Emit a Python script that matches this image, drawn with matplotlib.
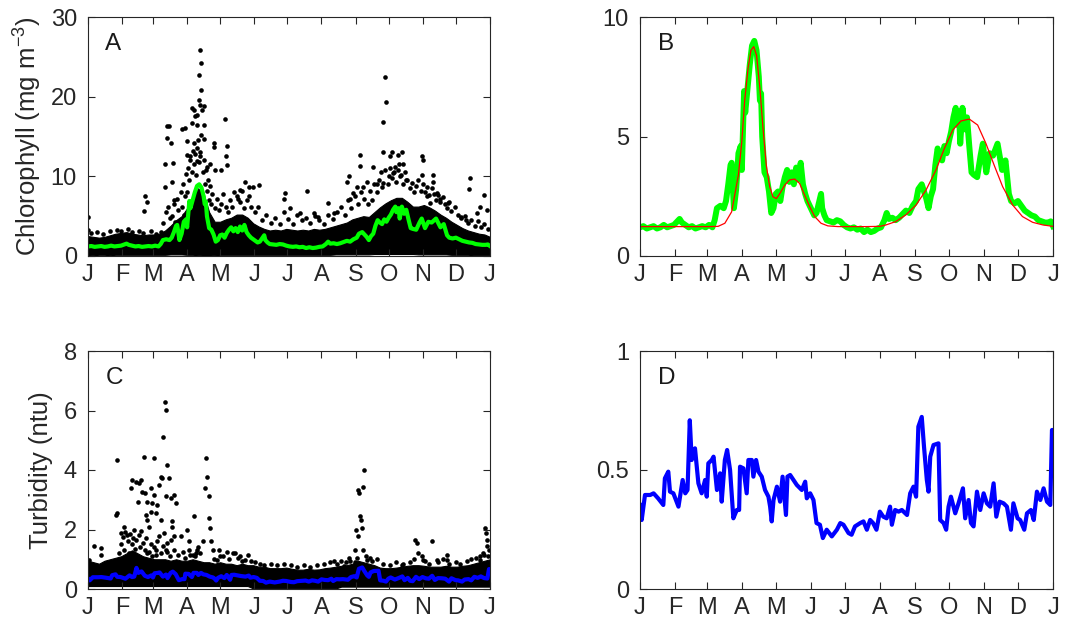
import matplotlib
matplotlib.use("Agg")
import matplotlib.pyplot as plt

plt.rcParams['font.family'] = ['Liberation Sans', 'DejaVu Sans']
plt.rcParams['mathtext.default'] = 'regular'

# month ticks (day of year)
MONTH_DAYS = [0, 31, 59, 90, 120, 151, 181, 212, 243, 273, 304, 334, 365]
MONTH_LABELS = ['J', 'F', 'M', 'A', 'M', 'J', 'J', 'A', 'S', 'O', 'N', 'D', 'J']

# smoothed chlorophyll (panels A and B)
chl_days = [0, 3, 6, 9, 12, 15, 18, 21, 24, 27, 30, 33, 35, 37, 40, 43, 46, 49, 52, 55,
            58, 61, 64, 66, 68, 71, 74, 76, 78, 80, 81, 83, 85, 87, 89, 90, 92, 93, 95, 97,
            99, 101, 103, 105, 106, 107, 108, 110, 112, 114, 116, 118, 120, 122, 124, 126,
            128, 130, 132, 134, 136, 138, 140, 142, 144, 146, 148, 150, 152, 154, 156, 158,
            160, 161, 163, 165, 168, 171, 174, 177, 180, 183, 186, 189, 192, 195, 198, 201,
            204, 207, 210, 213, 216, 218, 220, 223, 226, 229, 232, 235, 238, 241, 244, 246,
            249, 251, 253, 255, 257, 259, 261, 263, 265, 267, 269, 271, 273, 275, 277, 279,
            280, 282, 283, 285, 287, 289, 291, 293, 295, 298, 301, 303, 306, 309, 312, 316,
            320, 323, 326, 328, 331, 334, 337, 340, 343, 346, 349, 352, 355, 358, 361, 363, 365]
chl_smooth = [1.2, 1.25, 1.15, 1.2, 1.25, 1.15, 1.2, 1.3, 1.2, 1.25, 1.3, 1.45, 1.55, 1.4, 1.3,
              1.2, 1.25, 1.15, 1.2, 1.25, 1.2, 1.3, 1.2, 1.5, 2.0, 2.1, 2.0, 2.3, 3.0, 3.8,
              3.9, 2.0, 2.8, 4.3, 4.6, 3.6, 6.9, 6.0, 7.0, 8.0, 8.8, 9.0, 8.6, 7.5, 6.5, 6.8,
              5.0, 3.5, 3.3, 2.7, 1.8, 2.0, 2.6, 2.7, 2.3, 2.9, 3.3, 3.6, 3.1, 3.5, 3.0, 3.7,
              3.2, 3.9, 3.0, 2.6, 2.3, 2.1, 1.9, 1.7, 1.8, 2.2, 2.6, 2.0, 1.7, 1.5, 1.45, 1.4,
              1.5, 1.45, 1.3, 1.2, 1.15, 1.2, 1.1, 1.15, 1.0, 1.1, 1.0, 1.05, 1.15, 1.2, 1.5,
              1.8, 1.55, 1.6, 1.5, 1.6, 1.75, 1.9, 1.8, 2.1, 2.3, 2.8, 3.0, 2.7, 2.4, 2.0, 2.5,
              2.8, 3.8, 4.5, 4.2, 4.0, 4.6, 4.3, 4.8, 5.2, 5.8, 6.2, 5.5, 6.0, 4.7, 6.2, 5.3,
              5.8, 4.6, 3.5, 3.4, 3.3, 4.2, 4.7, 3.5, 4.3, 4.2, 4.7, 3.6, 4.0, 2.6, 2.3, 2.2,
              2.3, 2.1, 1.9, 1.8, 1.7, 1.65, 1.5, 1.45, 1.4, 1.4, 1.45, 1.25]

# fitted curve (panel B, red)
fit_days = [0, 30, 60, 69, 75, 81, 87, 90, 92.5, 95.5, 98, 100.5, 103, 106, 108.7, 111.6,
            114.6, 117.5, 120.5, 123.4, 128, 132, 136.7, 141, 145.5, 150, 154.4, 160, 166,
            175, 184, 200, 212, 217.4, 226, 235, 243.9, 252.8, 261.6, 269, 276.4, 283.7, 291,
            298.4, 305.7, 313, 320.5, 329.4, 338, 347, 356, 365]
fit_vals = [1.23, 1.23, 1.23, 1.24, 1.37, 1.85, 3.4, 4.8, 6.5, 7.85, 8.6, 8.76, 8.4, 7.0,
            5.35, 3.8, 2.9, 2.48, 2.4, 2.6, 2.97, 3.18, 3.22, 3.04, 2.55, 2.06, 1.65, 1.37,
            1.26, 1.23, 1.23, 1.23, 1.24, 1.3, 1.44, 1.72, 2.13, 2.76, 3.6, 4.5, 5.27, 5.65,
            5.73, 5.48, 4.71, 3.8, 2.9, 2.13, 1.65, 1.41, 1.3, 1.24]

# smoothed turbidity (panels C and D), (day, ntu)
turb_smooth = [
    (0, 0.353), (1.5, 0.29), (4.4, 0.395), (9, 0.395), (12, 0.402), (16, 0.381),
    (20.6, 0.353), (22, 0.465), (25, 0.493), (26.5, 0.409), (29.5, 0.402), (34, 0.346),
    (37.7, 0.458), (40, 0.402), (42, 0.416), (44, 0.709), (45.7, 0.542), (48.6, 0.591),
    (51.6, 0.444), (54.5, 0.402), (57.5, 0.458), (59, 0.388), (60.4, 0.528), (63.4, 0.542),
    (65, 0.556), (68, 0.416), (70.8, 0.486), (72.2, 0.367), (75, 0.542), (77, 0.584),
    (79.6, 0.5), (82.5, 0.297), (85.5, 0.332), (87.6, 0.332), (88.4, 0.514), (91.4, 0.507),
    (94.3, 0.402), (95.8, 0.542), (98.8, 0.542), (100.2, 0.472), (102.6, 0.542),
    (104.7, 0.493), (107.6, 0.472), (110.5, 0.416), (113.5, 0.388), (115, 0.346),
    (116.4, 0.284), (118, 0.374), (121, 0.43), (123.8, 0.367), (126, 0.472), (129, 0.311),
    (130.3, 0.472), (132.7, 0.479), (135.6, 0.458), (138.6, 0.437), (143, 0.416),
    (146, 0.451), (147.4, 0.381), (150.4, 0.402), (153.3, 0.374), (156, 0.277), (159, 0.27),
    (161.6, 0.214), (165, 0.249), (169.5, 0.221), (174, 0.249), (177, 0.277), (179.8, 0.27),
    (184.3, 0.235), (187, 0.228), (190, 0.263), (194.6, 0.277), (197.5, 0.284),
    (200.5, 0.249), (203.4, 0.29), (206, 0.277), (209, 0.249), (212, 0.325), (215, 0.304),
    (218, 0.297), (221, 0.346), (222.6, 0.27), (225.5, 0.332), (228.5, 0.325),
    (231.4, 0.332), (236, 0.311), (238.8, 0.402), (241.7, 0.43), (244, 0.388), (246, 0.682),
    (249, 0.723), (251, 0.598), (253.5, 0.458), (255, 0.409), (256.5, 0.556), (259.4, 0.605),
    (263.8, 0.612), (265.3, 0.29), (268.3, 0.277), (270.6, 0.249), (272.7, 0.346),
    (274.8, 0.388), (278.6, 0.318), (281.5, 0.36), (285.4, 0.423), (287.4, 0.297),
    (290.4, 0.374), (292.5, 0.277), (294.8, 0.263), (297.8, 0.409), (300.7, 0.332),
    (303.7, 0.402), (306.6, 0.36), (309.5, 0.346), (312.5, 0.444), (314.9, 0.304),
    (317.8, 0.367), (321.3, 0.36), (324.3, 0.346), (327.8, 0.249), (330, 0.36),
    (333.7, 0.297), (336, 0.29), (339.6, 0.249), (342, 0.318), (345.5, 0.332), (348, 0.29),
    (350.8, 0.409), (353.8, 0.374), (356.7, 0.423), (359.7, 0.367), (362.6, 0.353),
    (364.1, 0.668), (365, 0.668)]

# dense part of the raw clouds: lower / upper edge every 5 days
core_days = list(range(0, 361, 5)) + [365]
chl_core_hi = [2.5, 2.4, 2.3, 2.4, 2.6, 2.8, 2.9, 3.0, 2.8, 2.7, 2.6, 2.7, 2.7, 2.8, 3.2,
               3.8, 4.5, 5.0, 6.0, 7.2, 8.5, 7.8, 5.5, 4.3, 4.3, 4.6, 4.8, 5.2, 5.2, 4.8,
               4.1, 3.7, 3.4, 3.2, 3.3, 3.2, 3.4, 3.3, 3.2, 3.3, 3.2, 3.4, 3.3, 3.4, 3.6,
               3.8, 4.0, 4.2, 4.6, 4.8, 5.0, 4.9, 5.5, 6.1, 6.6, 7.0, 7.3, 7.3, 6.8, 6.2,
               6.2, 6.4, 6.1, 5.7, 5.2, 4.8, 4.3, 3.9, 3.5, 3.2, 3.0, 2.8, 2.7, 2.4]
chl_core_lo = [0.05, 0.1, 0.15, 0.15, 0.1, 0.15, 0.15, 0.15, 0.15, 0.15, 0.15, 0.15, 0.15,
               0.15, 0.15, 0.2, 0.2, 0.2, 0.15, 0.15, 0.1, 0.05, 0.05, 0.1, 0.15, 0.15, 0.15,
               0.15, 0.15, 0.15, 0.15, 0.15, 0.15, 0.15, 0.15, 0.15, 0.15, 0.15, 0.15, 0.15,
               0.15, 0.15, 0.15, 0.15, 0.15, 0.2, 0.2, 0.2, 0.2, 0.2, 0.2, 0.2, 0.25, 0.25,
               0.25, 0.25, 0.25, 0.25, 0.25, 0.25, 0.2, 0.2, 0.2, 0.2, 0.2, 0.2, 0.15, 0.15,
               0.15, 0.15, 0.1, 0.1, 0.1, 0.1]
turb_core_hi = [0.95, 0.9, 0.85, 0.95, 1.0, 1.05, 1.1, 1.2, 1.3, 1.2, 1.1, 1.05, 1.0, 1.0,
                1.0, 0.95, 1.0, 0.95, 0.95, 1.0, 0.95, 0.9, 0.9, 0.85, 0.9, 0.85, 0.85, 0.8,
                0.85, 0.8, 0.8, 0.75, 0.75, 0.7, 0.7, 0.7, 0.72, 0.68, 0.65, 0.65, 0.68, 0.65,
                0.66, 0.7, 0.72, 0.75, 0.78, 0.8, 0.85, 0.95, 0.9, 0.85, 0.8, 0.72, 0.7, 0.7,
                0.72, 0.75, 0.78, 0.8, 0.8, 0.78, 0.75, 0.75, 0.75, 0.78, 0.75, 0.75, 0.78,
                0.8, 0.85, 0.9, 0.95, 1.0]
turb_core_lo = [0.1] * 30 + [0.02] * 16 + [0.08] * 28

# scattered raw chlorophyll samples above the dense part, (day, mg m-3)
chl_pts = [
    (0, 4.9), (0, 3.3), (3, 2.9), (8, 3.0), (14, 2.8), (20, 3.2), (26, 3.3), (30, 3.1),
    (36, 3.4), (40, 3.0), (46, 3.1), (50, 2.9), (51, 5.6), (52, 7.5), (54, 6.8), (57, 3.2),
    (62, 2.8), (66, 3.0), (68, 4.2), (70, 11.6), (70, 8.7), (71, 5.5), (72, 16.3),
    (72, 14.8), (73, 6.2), (73.4, 16.3), (74, 4.8), (75, 14.2), (76, 9.3), (76, 5.0),
    (77, 11.7), (78, 7.0), (78, 6.5), (79, 4.3), (81, 7.2), (82, 5.8), (84, 8.0), (85, 6.2),
    (85.5, 16.0), (86, 9.0), (87, 5.2), (88, 16.1), (88, 7.5), (89, 10.3), (90, 14.4),
    (90, 12.7), (90, 8.0), (91, 11.0), (92, 9.5), (93, 12.1), (93, 12.5), (94, 10.5),
    (94.6, 18.6), (94.6, 16.7), (95, 13.2), (96, 18.3), (96, 14.2), (96, 11.5), (97, 12.8),
    (97.6, 17.6), (98, 10.2), (99, 17.7), (99, 16.5), (99, 11.9), (99, 13.5), (100, 14.5),
    (100.6, 19.6), (101, 11.8), (101.2, 22.7), (101.5, 19.0), (102, 25.9), (102, 13.1),
    (102, 12.5), (103, 24.2), (103, 20.8), (103, 15.2), (103.6, 18.3), (104, 10.5),
    (105, 18.8), (105, 12.0), (105.7, 16.5), (105.7, 14.7), (106, 9.0), (107, 10.8),
    (108, 11.2), (108, 8.2), (109, 9.5), (110, 7.0), (110.6, 11.6), (111, 8.8), (112, 6.5),
    (113, 7.8), (114, 14.2), (114, 13.7), (115, 6.0), (115.7, 10.8), (117, 7.2), (119, 5.8),
    (121, 10.8), (121, 6.5), (123, 7.8), (124, 17.2), (125, 12.5), (125, 6.2), (126, 13.8),
    (126, 11.4), (127, 5.5), (129, 7.0), (131, 6.2), (133, 8.0), (135, 7.5), (136, 7.2),
    (138, 8.3), (138, 6.8), (140, 8.2), (142, 6.0), (143, 9.3), (144, 7.0), (146, 8.7),
    (146, 7.5), (148, 6.2), (150, 8.7), (152, 5.5), (154, 6.2), (155, 8.9), (158, 4.5),
    (162, 5.2), (166, 4.2), (170, 4.8), (174, 4.0), (177.6, 7.1), (178, 5.5), (179, 7.9),
    (182, 4.6), (183.7, 6.0), (186, 4.0), (190, 5.2), (192.7, 5.4), (194, 4.5), (198, 4.8),
    (198.8, 8.2), (202, 4.2), (205, 5.4), (206, 5.0), (209, 4.9), (210, 4.5), (214, 4.0),
    (218, 6.6), (218, 5.2), (222, 4.6), (223, 5.4), (226, 5.5), (230, 6.2), (233, 5.2),
    (235, 9.3), (236, 7.0), (236.6, 10.0), (238, 7.2), (239, 6.0), (241, 7.9), (242, 7.5),
    (244, 8.7), (245, 6.5), (247, 12.7), (247, 11.3), (248, 8.0), (250, 8.7), (251, 7.2),
    (253, 9.3), (254, 6.5), (256, 8.2), (258, 7.0), (259, 11.2), (260, 9.0), (262, 9.1),
    (262, 8.0), (264, 9.5), (266, 10.5), (266.8, 8.7), (267.7, 13.1), (268, 16.8),
    (268, 9.2), (269.8, 22.5), (270, 10.8), (270.7, 19.3), (272, 9.0), (273, 10.0),
    (274, 12.5), (274, 11.0), (275.8, 13.1), (276, 9.8), (277, 10.4), (278, 10.5),
    (278.9, 11.2), (280, 9.3), (281.9, 12.7), (281.9, 10.8), (282, 11.5), (283, 10.0),
    (284, 10.2), (285, 13.1), (286, 11.6), (286, 9.0), (288, 10.5), (289, 9.6), (290, 9.5),
    (292, 8.5), (294, 9.2), (296, 8.0), (298, 8.8), (300, 9.5), (302, 8.2), (303, 12.5),
    (303, 10.2), (304, 9.0), (304.5, 12.1), (306, 8.0), (307.5, 7.5), (308, 8.6), (310, 7.6),
    (310.5, 6.6), (312, 8.5), (313, 9.3), (313.6, 10.2), (314, 7.8), (316, 7.0),
    (316.6, 7.9), (318, 7.6), (319.6, 7.2), (320, 6.8), (322, 7.4), (324, 6.5), (326, 6.0),
    (327, 6.6), (328, 6.8), (330, 5.6), (333, 6.2), (336, 5.2), (339, 4.8), (339, 4.9),
    (342, 5.0), (343.5, 4.5), (345, 4.2), (346, 8.4), (346.8, 9.8), (348, 4.5), (351, 3.8),
    (352.9, 5.4), (354, 4.4), (356, 6.2), (357, 3.6), (359.5, 7.7), (360, 4.0), (362, 5.8),
    (363, 3.4)]

# scattered raw turbidity samples above the dense part, (day, ntu)
turb_pts = [
    (1, 0.98), (5.4, 1.43), (11.5, 1.37), (11.5, 1.15), (25, 2.49), (26.6, 4.34),
    (26.6, 2.55), (28, 1.2), (29.6, 1.88), (30, 1.5), (32, 1.75), (32.6, 2.1), (33, 1.3),
    (34, 1.9), (35.6, 1.82), (36, 1.6), (37, 1.2), (38, 1.85), (38.7, 3.39), (40, 1.5),
    (40.2, 3.66), (41, 1.7), (42, 2.0), (43, 1.35), (43.2, 3.61), (44, 1.65), (45.3, 2.94),
    (46, 1.8), (46, 3.55), (47, 1.4), (47.7, 3.66), (48, 1.95), (49.2, 3.27), (50, 1.55),
    (50.8, 4.45), (51.4, 3.22), (52, 1.3), (52.3, 2.49), (53, 1.7), (53.8, 2.94),
    (53.8, 2.32), (53.8, 1.2), (55, 1.25), (55.3, 2.1), (56.8, 2.6), (56.8, 3.39), (57, 1.5),
    (58.3, 2.88), (58.3, 1.1), (59.8, 4.39), (59.8, 3.16), (60, 1.4), (61.3, 2.55),
    (61.3, 1.32), (62, 1.15), (62.8, 2.83), (63, 1.6), (64.4, 3.5), (64.4, 1.77),
    (65.9, 3.78), (65.9, 2.32), (66, 1.2), (67.4, 3.72), (68, 5.12), (68, 1.45), (68.9, 1.88),
    (69.8, 6.29), (70.4, 3.11), (70.4, 1.32), (71, 6.01), (71.9, 1.54), (72, 4.17),
    (72, 1.25), (73.4, 3.72), (74, 1.1), (75, 3.05), (75, 1.65), (76.4, 2.1), (76.4, 2.27),
    (78, 3.16), (78, 1.77), (78, 1.3), (79.5, 2.88), (82, 1.15), (84, 1.77), (86, 1.25),
    (88, 1.05), (90, 1.99), (91.5, 1.6), (92, 1.3), (93, 1.15), (95, 1.15), (96, 2.44),
    (97.6, 1.1), (98, 1.2), (99, 1.32), (100, 1.4), (102, 1.21), (104, 1.6), (106.6, 3.39),
    (107.3, 4.39), (108.2, 3.78), (109.7, 3.11), (110.3, 2.38), (111.2, 2.04), (111.8, 1.6),
    (113.3, 1.32), (114, 1.0), (117, 0.98), (118.7, 1.32), (120, 1.1), (123, 1.1),
    (126, 1.26), (128, 1.0), (132, 1.2), (133.8, 1.21), (136, 1.05), (138, 1.1), (140, 0.95),
    (143, 0.98), (145, 1.15), (148, 0.95), (152, 0.9), (156, 0.85), (160, 0.8), (166, 0.85),
    (172, 0.8), (178, 0.85), (184, 0.8), (190, 0.75), (196, 0.8), (202, 0.75), (208, 0.8),
    (214, 0.85), (220, 0.9), (223, 0.93), (226, 0.85), (230, 0.95), (232, 0.76), (234, 0.9),
    (236.6, 1.04), (238, 0.95), (242, 0.9), (242.6, 1.32), (243.5, 1.99), (244, 1.04),
    (244.7, 1.77), (245.6, 3.33), (246.5, 3.22), (247, 2.44), (248, 2.32), (248.6, 2.04),
    (249.5, 3.44), (250, 1.32), (251, 4.0), (252, 1.1), (253, 0.98), (256, 1.04),
    (258, 0.95), (262, 1.0), (268, 0.85), (274, 0.8), (280, 0.9), (285, 0.82), (286, 0.85),
    (292, 0.9), (296, 1.0), (297, 1.65), (298.5, 1.54), (300, 1.2), (303, 1.1), (304.5, 0.98),
    (306, 0.95), (310, 0.85), (312, 1.6), (316.6, 0.98), (318, 0.9), (322, 1.0),
    (325.7, 1.15), (325.7, 0.98), (328, 0.85), (334, 0.9), (338, 0.85), (344, 0.95),
    (348, 1.0), (352, 1.05), (356, 1.1), (356, 0.98), (359, 1.2), (360, 1.15), (360.4, 2.04),
    (361.3, 1.88), (362, 1.65), (362.6, 1.43), (363.5, 1.1), (364, 1.3)]

AX_COLOR = '#262626'
FS = 17


def style_axes(ax, ymax, yticks, letter):
    ax.set_xlim(0, 365)
    ax.set_ylim(0, ymax)
    ax.set_xticks(MONTH_DAYS)
    ax.set_xticklabels(MONTH_LABELS)
    ax.set_yticks(yticks)
    ax.set_yticklabels([f"{t:g}" for t in yticks])
    ax.tick_params(direction='in', top=True, right=True, length=5, width=0.8,
                   labelsize=FS, colors=AX_COLOR)
    ax.tick_params(axis='x', pad=5.5)
    ax.tick_params(axis='y', pad=8)
    for sp in ax.spines.values():
        sp.set_color(AX_COLOR)
        sp.set_linewidth(0.8)
    ax.text(0.043, 0.862, letter, transform=ax.transAxes, fontsize=17.5,
            color='#1a1a1a', va='baseline', ha='left')


fig = plt.figure(figsize=(10.65, 6.3), dpi=100)
W, H = 1065, 630


def box(x0, y0, x1, y1):
    return [x0 / W, 1 - y1 / H, (x1 - x0) / W, (y1 - y0) / H]


axA = fig.add_axes(box(88, 17, 490, 256))
axB = fig.add_axes(box(640, 17, 1053, 256))
axC = fig.add_axes(box(88, 351, 490, 589))
axD = fig.add_axes(box(640, 351, 1053, 589))

tdays = [d for d, v in turb_smooth]
tvals = [v for d, v in turb_smooth]

# A: raw chlorophyll + smoothed
axA.fill_between(core_days, chl_core_lo, chl_core_hi, color='black', lw=0.8)
axA.scatter([d for d, v in chl_pts], [v for d, v in chl_pts], s=11, color='black', lw=0)
axA.plot(chl_days, chl_smooth, color='#00ff00', lw=3)
style_axes(axA, 30, [0, 10, 20, 30], 'A')
axA.set_ylabel('Chlorophyll (mg m$^{-3}$)', fontsize=18.5, color=AX_COLOR)
axA.yaxis.set_label_coords(-0.11, 0.5)

# B: smoothed chlorophyll + fit
axB.plot(chl_days, chl_smooth, color='#00ff00', lw=4.3)
axB.plot(fit_days, fit_vals, color='#ff0000', lw=0.9)
style_axes(axB, 10, [0, 5, 10], 'B')

# C: raw turbidity + smoothed
axC.fill_between(core_days, turb_core_lo, turb_core_hi, color='black', lw=0.8)
axC.scatter([d for d, v in turb_pts], [v for d, v in turb_pts], s=11, color='black', lw=0)
axC.plot(tdays, tvals, color='#0000ff', lw=3)
style_axes(axC, 8, [0, 2, 4, 6, 8], 'C')
axC.set_ylabel('Turbidity (ntu)', fontsize=18.5, color=AX_COLOR)
axC.yaxis.set_label_coords(-0.088, 0.5)

# D: smoothed turbidity
axD.plot(tdays, tvals, color='#0000ff', lw=3)
style_axes(axD, 1, [0, 0.5, 1], 'D')

fig.savefig('out.png', dpi=100)
